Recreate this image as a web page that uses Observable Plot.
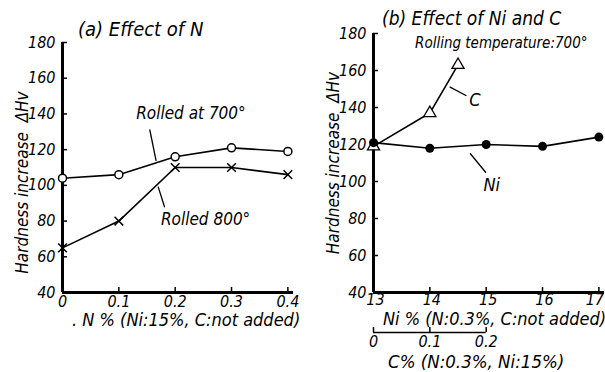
<!DOCTYPE html>
<html><head><meta charset="utf-8">
<script src="https://cdn.jsdelivr.net/npm/d3@7"></script>
<script src="https://cdn.jsdelivr.net/npm/@observablehq/plot@0.6"></script>
<style>
body{margin:0;background:#fff;}
#wrap{position:relative;width:605px;height:372px;overflow:hidden;font-family:"DejaVu Sans Condensed","Liberation Sans Narrow",Roboto,sans-serif;font-stretch:condensed;font-style:italic;color:#000;}
#wrap svg{overflow:visible;position:absolute;top:0}
.t{position:absolute;white-space:nowrap;line-height:1;}
</style></head><body><div id="wrap"></div>
<script>
// ---- data ----
const nPct = [0, 0.1, 0.2, 0.3, 0.4];
const rolled700 = [104, 106, 116, 121, 119];
const rolled800 = [65, 80, 110, 110, 106];
const niPct = [13, 14, 15, 16, 17];
const niHv = [121, 118, 120, 119, 124];
const cPct = [0, 0.1, 0.15];
const cHv = [119, 137, 163];
const yTicks = [40, 60, 80, 100, 120, 140, 160, 180];
const nTicks = [0, 0.1, 0.2, 0.3, 0.4];
const niTicks = [13, 14, 15, 16, 17];
const cTicks = [0, 0.1, 0.2];
// C% axis is drawn under the Ni% axis: C 0 -> Ni 13, C 0.2 -> Ni 15
const cToNi = c => 13 + c * 10;

const yLabel = "Hardness increase  ΔHv";
const titleA = "(a) Effect of N";
const titleB = "(b) Effect of Ni and C";
const subB = "Rolling temperature:700°";
const xLabelA = ". N % (Ni:15%, C:not added)";
const xLabelB = "Ni % (N:0.3%, C:not added)";
const xLabelC = "C% (N:0.3%, Ni:15%)";

// annotations (data coordinates)
const notesA = [{t: "Rolled at 700°", x: 0.228, y: 140}, {t: "Rolled 800°", x: 0.254, y: 81}];
const arrowsA = [{x1: 0.155, y1: 131, x2: 0.166, y2: 114, b: 20}, {x1: 0.181, y1: 88, x2: 0.170, y2: 99, b: 15}];
const notesB = [{t: "C", x: 14.8, y: 144}, {t: "Ni", x: 15.1, y: 98}];
const arrowsB = [{x1: 14.64, y1: 146.5, x2: 14.36, y2: 151, b: 15}, {x1: 14.99, y1: 105, x2: 14.72, y2: 115, b: -15}];

const FONT = '"DejaVu Sans Condensed","Liberation Sans Narrow",Roboto,sans-serif';
const style = {fontFamily: FONT, fontStyle: "italic", fontStretch: "condensed", fontSize: "16px", background: "transparent", overflow: "visible"};
const fmt = d3.format("~g");

const A700 = nPct.map((x, i) => ({x, y: rolled700[i]}));
const A800 = nPct.map((x, i) => ({x, y: rolled800[i]}));
const BNi = niPct.map((x, i) => ({x, y: niHv[i]}));
const BC = cPct.map((c, i) => ({x: cToNi(c), y: cHv[i]}));

const left = Plot.plot({
  width: 300, height: 372, marginTop: 42, marginBottom: 80, marginLeft: 62, marginRight: 7,
  style,
  x: {domain: [0, 0.41]},
  y: {domain: [40, 180]},
  marks: [
    Plot.axisY(yTicks, {tickSize: -5, tickPadding: 12, label: null, strokeWidth: 1.5}),
    Plot.axisX(nTicks, {tickSize: -5, tickPadding: 8, label: null, strokeWidth: 1.5, tickFormat: fmt}),
    Plot.ruleX([0], {strokeWidth: 3}),
    Plot.ruleY([40], {strokeWidth: 3}),
    Plot.text([yLabel], {frameAnchor: "left", textAnchor: "middle", rotate: -90, dx: -40, dy: 15, fontSize: 17}),
    Plot.line(A700, {x: "x", y: "y", strokeWidth: 1.6}),
    Plot.line(A800, {x: "x", y: "y", strokeWidth: 1.6}),
    Plot.dot(A700, {x: "x", y: "y", r: 4, fill: "white", stroke: "black", strokeWidth: 1.5}),
    Plot.dot(A800, {x: "x", y: "y", r: 4, symbol: "times", stroke: "black", strokeWidth: 1.5}),
    Plot.text(notesA, {x: "x", y: "y", text: "t", fontSize: 17}),
    Plot.arrow(arrowsA, {x1: "x1", y1: "y1", x2: "x2", y2: "y2", bend: d => d.b, headLength: 6, strokeWidth: 1.3})
  ]
});

const right = Plot.plot({
  width: 305, height: 372, marginTop: 33, marginBottom: 80, marginLeft: 73, marginRight: 1,
  style,
  x: {domain: [13, 17.1]},
  y: {domain: [40, 180]},
  marks: [
    Plot.axisY(yTicks, {tickSize: -5, tickPadding: 12, label: null, strokeWidth: 1.5}),
    Plot.axisX(niTicks, {tickSize: -5, label: null, strokeWidth: 1.5, tickFormat: () => ""}),
    Plot.axisX(niTicks.slice(0, -1), {tickSize: 0, tickPadding: 1, label: null, dx: 2}),
    Plot.axisX(niTicks.slice(-1), {tickSize: 0, tickPadding: 1, label: null, dx: -4}),
    Plot.axisX(cTicks.map(cToNi), {tickSize: -5, tickPadding: 8, label: null, dy: 40, strokeWidth: 1.5, tickFormat: v => fmt((v - 13) / 10)}),
    Plot.ruleY([40], {x1: cToNi(cTicks[0]), x2: cToNi(cTicks[cTicks.length - 1]), dy: 40, strokeWidth: 1.5}),
    Plot.ruleX([13], {strokeWidth: 3}),
    Plot.ruleY([40], {strokeWidth: 3}),
    Plot.text([yLabel], {frameAnchor: "left", textAnchor: "middle", rotate: -90, dx: -40, dy: 0, fontSize: 17}),
    Plot.line(BC, {x: "x", y: "y", strokeWidth: 1.6}),
    Plot.line(BNi, {x: "x", y: "y", strokeWidth: 1.6}),
    Plot.dot(BC, {x: "x", y: "y", r: 4.5, symbol: "triangle", fill: "white", stroke: "black", strokeWidth: 1.3}),
    Plot.dot(BNi, {x: "x", y: "y", r: 4.5, fill: "black"}),
    Plot.text(notesB, {x: "x", y: "y", text: "t", fontSize: 18}),
    Plot.arrow(arrowsB, {x1: "x1", y1: "y1", x2: "x2", y2: "y2", bend: d => d.b, headLength: 6, strokeWidth: 1.3})
  ]
});

const wrap = document.getElementById("wrap");
left.style.left = "0px";
right.style.left = "300px";
wrap.append(left, right);

function label(txt, x, y, size) {
  const d = document.createElement("div");
  d.className = "t";
  d.textContent = txt;
  d.style.left = x + "px";
  d.style.top = y + "px";
  d.style.fontSize = size + "px";
  wrap.append(d);
}
label(titleA, 78, 19, 20);
label(titleB, 382, 9, 19);
label(subB, 415, 36, 15);
label(xLabelA, 72, 311, 18);
label(xLabelB, 383, 310, 18);
label(xLabelC, 388, 353, 18.5);
</script></body></html>
